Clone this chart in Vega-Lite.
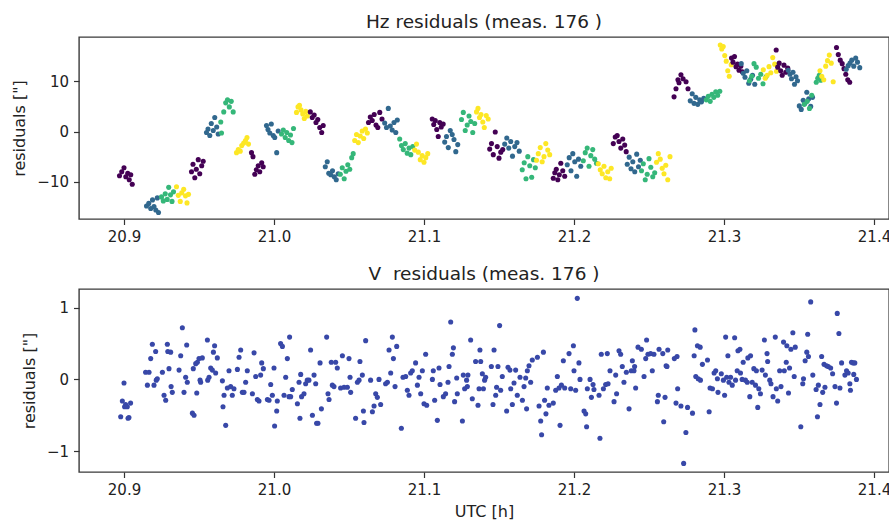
{
"$schema": "https://vega.github.io/schema/vega-lite/v6.json",
"padding": {"left": 11, "top": 11, "right": 0, "bottom": 0},
"spacing": 17,
"config": {
 "font": "DejaVu Sans",
 "view": {"stroke": "#3a3a3a", "strokeWidth": 1.4},
 "axis": {"grid": false, "domain": false, "tickColor": "#333", "tickSize": 5.5, "tickWidth": 1.2, "labelFontSize": 15, "labelColor": "#222", "titleFontSize": 16, "titleFontWeight": "normal", "titleColor": "#222", "labelPadding": 5, "titlePadding": 9},
 "title": {"fontSize": 18.5, "fontWeight": "normal", "color": "#222", "offset": 6}
},
"datasets": {
"hz": [
{"t":20.8970,"r":-8.8,"s":"1"},{"t":20.8985,"r":-8.0,"s":"1"},{"t":20.9000,"r":-7.2,"s":"1"},{"t":20.9012,"r":-9.0,"s":"1"},{"t":20.9025,"r":-8.3,"s":"1"},{"t":20.9035,"r":-9.6,"s":"1"},{"t":20.9045,"r":-8.6,"s":"1"},{"t":20.9055,"r":-10.5,"s":"1"},
{"t":20.9150,"r":-14.8,"s":"2"},{"t":20.9165,"r":-14.3,"s":"2"},{"t":20.9178,"r":-15.3,"s":"2"},{"t":20.9190,"r":-13.6,"s":"2"},{"t":20.9200,"r":-14.9,"s":"2"},{"t":20.9212,"r":-15.6,"s":"2"},{"t":20.9222,"r":-13.2,"s":"2"},{"t":20.9230,"r":-16.1,"s":"2"},
{"t":20.9250,"r":-13.0,"s":"3"},{"t":20.9262,"r":-13.8,"s":"3"},{"t":20.9275,"r":-12.4,"s":"3"},{"t":20.9288,"r":-13.5,"s":"3"},{"t":20.9298,"r":-11.1,"s":"3"},{"t":20.9310,"r":-12.6,"s":"3"},{"t":20.9320,"r":-13.9,"s":"3"},{"t":20.9330,"r":-12.0,"s":"3"},
{"t":20.9350,"r":-11.0,"s":"4"},{"t":20.9362,"r":-12.7,"s":"4"},{"t":20.9375,"r":-13.9,"s":"4"},{"t":20.9385,"r":-12.2,"s":"4"},{"t":20.9398,"r":-11.5,"s":"4"},{"t":20.9410,"r":-12.8,"s":"4"},{"t":20.9420,"r":-14.2,"s":"4"},{"t":20.9430,"r":-12.5,"s":"4"},
{"t":20.9450,"r":-8.0,"s":"1"},{"t":20.9460,"r":-6.5,"s":"1"},{"t":20.9472,"r":-9.2,"s":"1"},{"t":20.9482,"r":-7.5,"s":"1"},{"t":20.9495,"r":-5.6,"s":"1"},{"t":20.9505,"r":-8.4,"s":"1"},{"t":20.9518,"r":-6.8,"s":"1"},{"t":20.9528,"r":-5.9,"s":"1"},
{"t":20.9550,"r":-0.2,"s":"2"},{"t":20.9560,"r":0.5,"s":"2"},{"t":20.9572,"r":-0.8,"s":"2"},{"t":20.9582,"r":1.6,"s":"2"},{"t":20.9595,"r":0.2,"s":"2"},{"t":20.9605,"r":2.8,"s":"2"},{"t":20.9618,"r":0.9,"s":"2"},{"t":20.9628,"r":-0.5,"s":"2"},
{"t":20.9645,"r":1.9,"s":"3"},{"t":20.9650,"r":-0.3,"s":"3"},{"t":20.9665,"r":3.9,"s":"3"},{"t":20.9678,"r":5.7,"s":"3"},{"t":20.9690,"r":6.3,"s":"3"},{"t":20.9702,"r":4.9,"s":"3"},{"t":20.9715,"r":6.0,"s":"3"},{"t":20.9728,"r":3.9,"s":"3"},
{"t":20.9750,"r":-4.2,"s":"4"},{"t":20.9762,"r":-3.6,"s":"4"},{"t":20.9775,"r":-3.9,"s":"4"},{"t":20.9785,"r":-2.8,"s":"4"},{"t":20.9798,"r":-2.3,"s":"4"},{"t":20.9810,"r":-1.8,"s":"4"},{"t":20.9820,"r":-1.2,"s":"4"},{"t":20.9830,"r":-2.5,"s":"4"},
{"t":20.9850,"r":-4.2,"s":"1"},{"t":20.9860,"r":-5.0,"s":"1"},{"t":20.9872,"r":-8.5,"s":"1"},{"t":20.9882,"r":-7.6,"s":"1"},{"t":20.9895,"r":-6.8,"s":"1"},{"t":20.9905,"r":-8.0,"s":"1"},{"t":20.9918,"r":-6.2,"s":"1"},{"t":20.9928,"r":-7.0,"s":"1"},
{"t":20.9950,"r":1.2,"s":"2"},{"t":20.9960,"r":0.4,"s":"2"},{"t":20.9972,"r":-0.3,"s":"2"},{"t":20.9982,"r":1.5,"s":"2"},{"t":20.9995,"r":-0.8,"s":"2"},{"t":21.0005,"r":-1.2,"s":"2"},{"t":21.0018,"r":-4.2,"s":"2"},{"t":21.0028,"r":0.1,"s":"2"},
{"t":21.0050,"r":-0.5,"s":"3"},{"t":21.0062,"r":0.3,"s":"3"},{"t":21.0075,"r":-1.2,"s":"3"},{"t":21.0085,"r":-0.2,"s":"3"},{"t":21.0098,"r":-1.8,"s":"3"},{"t":21.0110,"r":-0.7,"s":"3"},{"t":21.0120,"r":-2.2,"s":"3"},{"t":21.0130,"r":0.6,"s":"3"},
{"t":21.0150,"r":3.8,"s":"4"},{"t":21.0160,"r":4.9,"s":"4"},{"t":21.0170,"r":5.2,"s":"4"},{"t":21.0180,"r":4.3,"s":"4"},{"t":21.0192,"r":3.5,"s":"4"},{"t":21.0202,"r":2.6,"s":"4"},{"t":21.0212,"r":4.0,"s":"4"},{"t":21.0222,"r":3.1,"s":"4"},
{"t":21.0242,"r":3.9,"s":"1"},{"t":21.0255,"r":2.8,"s":"1"},{"t":21.0268,"r":3.3,"s":"1"},{"t":21.0280,"r":1.8,"s":"1"},{"t":21.0292,"r":2.4,"s":"1"},{"t":21.0305,"r":0.8,"s":"1"},{"t":21.0318,"r":-0.2,"s":"1"},{"t":21.0328,"r":1.2,"s":"1"},
{"t":21.0342,"r":-7.0,"s":"2"},{"t":21.0355,"r":-6.0,"s":"2"},{"t":21.0365,"r":-8.3,"s":"2"},{"t":21.0378,"r":-8.6,"s":"2"},{"t":21.0390,"r":-7.8,"s":"2"},{"t":21.0402,"r":-9.0,"s":"2"},{"t":21.0415,"r":-9.6,"s":"2"},{"t":21.0428,"r":-8.4,"s":"2"},
{"t":21.0442,"r":-8.5,"s":"3"},{"t":21.0455,"r":-7.2,"s":"3"},{"t":21.0468,"r":-9.4,"s":"3"},{"t":21.0480,"r":-7.9,"s":"3"},{"t":21.0492,"r":-6.6,"s":"3"},{"t":21.0505,"r":-7.5,"s":"3"},{"t":21.0518,"r":-5.2,"s":"3"},{"t":21.0528,"r":-4.4,"s":"3"},
{"t":21.0538,"r":-1.8,"s":"4"},{"t":21.0550,"r":-0.6,"s":"4"},{"t":21.0562,"r":-2.2,"s":"4"},{"t":21.0575,"r":-0.9,"s":"4"},{"t":21.0588,"r":0.1,"s":"4"},{"t":21.0598,"r":-1.4,"s":"4"},{"t":21.0610,"r":0.5,"s":"4"},{"t":21.0622,"r":-0.3,"s":"4"},
{"t":21.0630,"r":1.8,"s":"1"},{"t":21.0642,"r":2.9,"s":"1"},{"t":21.0655,"r":2.2,"s":"1"},{"t":21.0668,"r":3.4,"s":"1"},{"t":21.0680,"r":1.3,"s":"1"},{"t":21.0692,"r":0.8,"s":"1"},{"t":21.0705,"r":3.8,"s":"1"},{"t":21.0720,"r":2.5,"s":"1"},
{"t":21.0738,"r":1.7,"s":"2"},{"t":21.0750,"r":0.8,"s":"2"},{"t":21.0762,"r":4.6,"s":"2"},{"t":21.0775,"r":1.1,"s":"2"},{"t":21.0788,"r":0.3,"s":"2"},{"t":21.0800,"r":1.8,"s":"2"},{"t":21.0812,"r":-0.2,"s":"2"},{"t":21.0822,"r":2.3,"s":"2"},
{"t":21.0838,"r":-1.5,"s":"3"},{"t":21.0850,"r":-2.8,"s":"3"},{"t":21.0862,"r":-3.6,"s":"3"},{"t":21.0875,"r":-2.4,"s":"3"},{"t":21.0888,"r":-4.3,"s":"3"},{"t":21.0900,"r":-3.3,"s":"3"},{"t":21.0912,"r":-4.6,"s":"3"},{"t":21.0925,"r":-3.0,"s":"3"},
{"t":21.0938,"r":-3.7,"s":"4"},{"t":21.0950,"r":-2.5,"s":"4"},{"t":21.0962,"r":-4.1,"s":"4"},{"t":21.0975,"r":-5.6,"s":"4"},{"t":21.0988,"r":-4.8,"s":"4"},{"t":21.1000,"r":-6.1,"s":"4"},{"t":21.1012,"r":-5.2,"s":"4"},{"t":21.1025,"r":-4.4,"s":"4"},
{"t":21.1055,"r":2.5,"s":"1"},{"t":21.1065,"r":1.4,"s":"1"},{"t":21.1075,"r":2.2,"s":"1"},{"t":21.1085,"r":0.4,"s":"1"},{"t":21.1095,"r":-1.0,"s":"1"},{"t":21.1105,"r":1.8,"s":"1"},{"t":21.1115,"r":0.9,"s":"1"},{"t":21.1128,"r":1.5,"s":"1"},
{"t":21.1138,"r":-2.1,"s":"2"},{"t":21.1150,"r":-1.0,"s":"2"},{"t":21.1162,"r":-3.2,"s":"2"},{"t":21.1175,"r":0.2,"s":"2"},{"t":21.1188,"r":-0.6,"s":"2"},{"t":21.1200,"r":-1.6,"s":"2"},{"t":21.1212,"r":-4.0,"s":"2"},{"t":21.1225,"r":-2.6,"s":"2"},
{"t":21.1250,"r":2.4,"s":"3"},{"t":21.1262,"r":3.8,"s":"3"},{"t":21.1275,"r":0.2,"s":"3"},{"t":21.1288,"r":1.3,"s":"3"},{"t":21.1300,"r":3.1,"s":"3"},{"t":21.1312,"r":2.0,"s":"3"},{"t":21.1325,"r":-0.2,"s":"3"},{"t":21.1338,"r":1.6,"s":"3"},
{"t":21.1350,"r":3.9,"s":"4"},{"t":21.1360,"r":4.6,"s":"4"},{"t":21.1370,"r":2.8,"s":"4"},{"t":21.1380,"r":3.4,"s":"4"},{"t":21.1392,"r":1.9,"s":"4"},{"t":21.1402,"r":0.8,"s":"4"},{"t":21.1415,"r":3.2,"s":"4"},{"t":21.1428,"r":2.5,"s":"4"},
{"t":21.1438,"r":-3.5,"s":"1"},{"t":21.1450,"r":-2.4,"s":"1"},{"t":21.1462,"r":-4.6,"s":"1"},{"t":21.1475,"r":-0.1,"s":"1"},{"t":21.1488,"r":-3.0,"s":"1"},{"t":21.1500,"r":-5.3,"s":"1"},{"t":21.1512,"r":-4.1,"s":"1"},{"t":21.1525,"r":-3.6,"s":"1"},
{"t":21.1538,"r":-2.5,"s":"2"},{"t":21.1552,"r":-1.3,"s":"2"},{"t":21.1565,"r":-3.3,"s":"2"},{"t":21.1578,"r":-2.0,"s":"2"},{"t":21.1590,"r":-4.9,"s":"2"},{"t":21.1605,"r":-3.0,"s":"2"},{"t":21.1620,"r":-2.2,"s":"2"},{"t":21.1635,"r":-3.9,"s":"2"},
{"t":21.1655,"r":-7.6,"s":"3"},{"t":21.1668,"r":-6.2,"s":"3"},{"t":21.1680,"r":-9.4,"s":"3"},{"t":21.1692,"r":-5.0,"s":"3"},{"t":21.1705,"r":-6.8,"s":"3"},{"t":21.1718,"r":-9.1,"s":"3"},{"t":21.1730,"r":-5.6,"s":"3"},{"t":21.1742,"r":-7.2,"s":"3"},
{"t":21.1750,"r":-5.7,"s":"4"},{"t":21.1762,"r":-4.4,"s":"4"},{"t":21.1775,"r":-3.2,"s":"4"},{"t":21.1788,"r":-6.0,"s":"4"},{"t":21.1800,"r":-5.0,"s":"4"},{"t":21.1812,"r":-2.4,"s":"4"},{"t":21.1825,"r":-3.7,"s":"4"},{"t":21.1838,"r":-4.6,"s":"4"},
{"t":21.1862,"r":-9.3,"s":"1"},{"t":21.1872,"r":-8.2,"s":"1"},{"t":21.1882,"r":-7.5,"s":"1"},{"t":21.1892,"r":-9.6,"s":"1"},{"t":21.1902,"r":-8.6,"s":"1"},{"t":21.1912,"r":-6.3,"s":"1"},{"t":21.1925,"r":-7.8,"s":"1"},{"t":21.1938,"r":-8.9,"s":"1"},
{"t":21.1955,"r":-6.6,"s":"2"},{"t":21.1968,"r":-5.2,"s":"2"},{"t":21.1980,"r":-7.8,"s":"2"},{"t":21.1992,"r":-4.4,"s":"2"},{"t":21.2005,"r":-6.0,"s":"2"},{"t":21.2018,"r":-8.9,"s":"2"},{"t":21.2030,"r":-5.5,"s":"2"},{"t":21.2045,"r":-6.9,"s":"2"},
{"t":21.2062,"r":-5.8,"s":"3"},{"t":21.2075,"r":-4.2,"s":"3"},{"t":21.2088,"r":-3.3,"s":"3"},{"t":21.2100,"r":-6.9,"s":"3"},{"t":21.2112,"r":-4.8,"s":"3"},{"t":21.2125,"r":-3.6,"s":"3"},{"t":21.2138,"r":-5.5,"s":"3"},{"t":21.2150,"r":-6.3,"s":"3"},
{"t":21.2162,"r":-6.4,"s":"4"},{"t":21.2175,"r":-7.6,"s":"4"},{"t":21.2188,"r":-8.4,"s":"4"},{"t":21.2200,"r":-6.9,"s":"4"},{"t":21.2212,"r":-9.2,"s":"4"},{"t":21.2225,"r":-8.0,"s":"4"},{"t":21.2238,"r":-9.4,"s":"4"},{"t":21.2248,"r":-7.3,"s":"4"},
{"t":21.2262,"r":-2.4,"s":"1"},{"t":21.2275,"r":-1.1,"s":"1"},{"t":21.2288,"r":-0.8,"s":"1"},{"t":21.2300,"r":-2.0,"s":"1"},{"t":21.2312,"r":-3.3,"s":"1"},{"t":21.2325,"r":-1.5,"s":"1"},{"t":21.2338,"r":-2.7,"s":"1"},{"t":21.2348,"r":-4.0,"s":"1"},
{"t":21.2355,"r":-6.5,"s":"2"},{"t":21.2368,"r":-5.1,"s":"2"},{"t":21.2380,"r":-7.4,"s":"2"},{"t":21.2392,"r":-6.0,"s":"2"},{"t":21.2405,"r":-8.0,"s":"2"},{"t":21.2418,"r":-4.5,"s":"2"},{"t":21.2430,"r":-7.0,"s":"2"},{"t":21.2442,"r":-5.7,"s":"2"},
{"t":21.2450,"r":-7.8,"s":"3"},{"t":21.2462,"r":-6.4,"s":"3"},{"t":21.2475,"r":-9.6,"s":"3"},{"t":21.2488,"r":-8.5,"s":"3"},{"t":21.2500,"r":-5.4,"s":"3"},{"t":21.2512,"r":-7.1,"s":"3"},{"t":21.2525,"r":-9.0,"s":"3"},{"t":21.2538,"r":-8.2,"s":"3"},
{"t":21.2550,"r":-6.1,"s":"4"},{"t":21.2562,"r":-4.4,"s":"4"},{"t":21.2575,"r":-5.5,"s":"4"},{"t":21.2588,"r":-7.3,"s":"4"},{"t":21.2600,"r":-8.4,"s":"4"},{"t":21.2612,"r":-6.7,"s":"4"},{"t":21.2625,"r":-9.6,"s":"4"},{"t":21.2640,"r":-5.0,"s":"4"},
{"t":21.2667,"r":6.9,"s":"1"},{"t":21.2680,"r":8.5,"s":"1"},{"t":21.2693,"r":10.3,"s":"1"},{"t":21.2700,"r":9.7,"s":"1"},{"t":21.2713,"r":11.3,"s":"1"},{"t":21.2727,"r":10.5,"s":"1"},{"t":21.2747,"r":9.9,"s":"1"},{"t":21.2760,"r":8.5,"s":"1"},
{"t":21.2775,"r":6.1,"s":"2"},{"t":21.2788,"r":7.5,"s":"2"},{"t":21.2800,"r":5.6,"s":"2"},{"t":21.2812,"r":6.8,"s":"2"},{"t":21.2825,"r":5.4,"s":"2"},{"t":21.2838,"r":6.3,"s":"2"},{"t":21.2850,"r":5.9,"s":"2"},{"t":21.2865,"r":6.6,"s":"2"},
{"t":21.2882,"r":6.3,"s":"3"},{"t":21.2895,"r":7.0,"s":"3"},{"t":21.2908,"r":6.0,"s":"3"},{"t":21.2920,"r":7.4,"s":"3"},{"t":21.2932,"r":6.8,"s":"3"},{"t":21.2945,"r":7.9,"s":"3"},{"t":21.2958,"r":7.2,"s":"3"},{"t":21.2972,"r":8.0,"s":"3"},
{"t":21.2975,"r":17.2,"s":"4"},{"t":21.2985,"r":16.4,"s":"4"},{"t":21.2995,"r":16.9,"s":"4"},{"t":21.3005,"r":15.1,"s":"4"},{"t":21.3015,"r":14.0,"s":"4"},{"t":21.3025,"r":12.1,"s":"4"},{"t":21.3035,"r":11.0,"s":"4"},{"t":21.3048,"r":13.3,"s":"4"},
{"t":21.3050,"r":14.6,"s":"1"},{"t":21.3060,"r":13.8,"s":"1"},{"t":21.3070,"r":14.9,"s":"1"},{"t":21.3080,"r":12.9,"s":"1"},{"t":21.3090,"r":13.4,"s":"1"},{"t":21.3100,"r":12.2,"s":"1"},{"t":21.3112,"r":13.0,"s":"1"},{"t":21.3122,"r":11.9,"s":"1"},
{"t":21.3115,"r":13.5,"s":"2"},{"t":21.3128,"r":11.6,"s":"2"},{"t":21.3140,"r":10.8,"s":"2"},{"t":21.3152,"r":12.1,"s":"2"},{"t":21.3165,"r":9.6,"s":"2"},{"t":21.3178,"r":10.4,"s":"2"},{"t":21.3190,"r":11.2,"s":"2"},{"t":21.3205,"r":9.4,"s":"2"},
{"t":21.3170,"r":10.1,"s":"3"},{"t":21.3185,"r":11.0,"s":"3"},{"t":21.3200,"r":13.5,"s":"3"},{"t":21.3215,"r":12.8,"s":"3"},{"t":21.3230,"r":10.6,"s":"3"},{"t":21.3245,"r":11.4,"s":"3"},{"t":21.3260,"r":9.5,"s":"3"},{"t":21.3280,"r":10.9,"s":"3"},
{"t":21.3262,"r":12.3,"s":"4"},{"t":21.3275,"r":10.6,"s":"4"},{"t":21.3288,"r":11.2,"s":"4"},{"t":21.3300,"r":12.9,"s":"4"},{"t":21.3312,"r":11.7,"s":"4"},{"t":21.3325,"r":14.7,"s":"4"},{"t":21.3338,"r":13.4,"s":"4"},{"t":21.3350,"r":12.0,"s":"4"},
{"t":21.3348,"r":16.2,"s":"1"},{"t":21.3358,"r":12.8,"s":"1"},{"t":21.3368,"r":13.6,"s":"1"},{"t":21.3378,"r":12.1,"s":"1"},{"t":21.3388,"r":11.2,"s":"1"},{"t":21.3400,"r":13.2,"s":"1"},{"t":21.3412,"r":11.8,"s":"1"},{"t":21.3425,"r":12.6,"s":"1"},
{"t":21.3428,"r":12.2,"s":"2"},{"t":21.3440,"r":11.4,"s":"2"},{"t":21.3450,"r":10.5,"s":"2"},{"t":21.3460,"r":11.8,"s":"2"},{"t":21.3470,"r":9.4,"s":"2"},{"t":21.3480,"r":10.9,"s":"2"},{"t":21.3490,"r":10.1,"s":"2"},
{"t":21.3502,"r":5.1,"s":"2"},{"t":21.3515,"r":4.4,"s":"2"},{"t":21.3528,"r":6.2,"s":"2"},{"t":21.3540,"r":5.6,"s":"2"},{"t":21.3552,"r":7.8,"s":"2"},{"t":21.3565,"r":6.5,"s":"2"},{"t":21.3578,"r":5.0,"s":"2"},{"t":21.3590,"r":6.8,"s":"2"},
{"t":21.3535,"r":5.4,"s":"3"},{"t":21.3555,"r":6.0,"s":"3"},{"t":21.3570,"r":4.6,"s":"3"},{"t":21.3585,"r":7.2,"s":"3"},{"t":21.3615,"r":9.8,"s":"3"},{"t":21.3625,"r":10.6,"s":"3"},{"t":21.3635,"r":11.2,"s":"3"},{"t":21.3645,"r":10.2,"s":"3"},
{"t":21.3640,"r":12.1,"s":"4"},{"t":21.3652,"r":11.0,"s":"4"},{"t":21.3665,"r":10.3,"s":"4"},{"t":21.3678,"r":13.0,"s":"4"},{"t":21.3690,"r":14.1,"s":"4"},{"t":21.3702,"r":15.2,"s":"4"},{"t":21.3715,"r":13.6,"s":"4"},{"t":21.3728,"r":9.9,"s":"4"},
{"t":21.3750,"r":16.7,"s":"1"},{"t":21.3762,"r":15.3,"s":"1"},{"t":21.3775,"r":14.2,"s":"1"},{"t":21.3788,"r":13.5,"s":"1"},{"t":21.3800,"r":12.5,"s":"1"},{"t":21.3812,"r":11.4,"s":"1"},{"t":21.3825,"r":10.3,"s":"1"},{"t":21.3838,"r":9.8,"s":"1"},
{"t":21.3815,"r":12.4,"s":"2"},{"t":21.3828,"r":13.1,"s":"2"},{"t":21.3840,"r":13.6,"s":"2"},{"t":21.3852,"r":14.2,"s":"2"},{"t":21.3865,"r":13.0,"s":"2"},{"t":21.3878,"r":14.6,"s":"2"},{"t":21.3890,"r":13.8,"s":"2"},{"t":21.3905,"r":12.7,"s":"2"}
],
"v": [
{"t":20.8978,"r":-0.52},{"t":20.8989,"r":-0.30},{"t":20.9000,"r":-0.05},{"t":20.9011,"r":-0.35},{"t":20.9004,"r":-0.38},{"t":20.9022,"r":-0.38},{"t":20.9044,"r":-0.33},{"t":20.9033,"r":-0.53},{"t":20.9027,"r":-0.54},
{"t":20.9144,"r":0.10},{"t":20.9167,"r":0.10},{"t":20.9156,"r":-0.08},{"t":20.9178,"r":0.29},{"t":20.9189,"r":0.49},{"t":20.9211,"r":0.39},{"t":20.9200,"r":-0.08},{"t":20.9215,"r":-0.01},{"t":20.9222,"r":0.01},
{"t":20.9256,"r":0.10},{"t":20.9267,"r":-0.22},{"t":20.9278,"r":-0.29},{"t":20.9289,"r":0.49},{"t":20.9292,"r":0.39},{"t":20.9300,"r":0.15},{"t":20.9311,"r":0.38},{"t":20.9314,"r":-0.10},{"t":20.9322,"r":-0.18},
{"t":20.9367,"r":0.13},{"t":20.9378,"r":0.33},{"t":20.9389,"r":0.72},{"t":20.9400,"r":-0.18},{"t":20.9411,"r":0.03},{"t":20.9418,"r":0.48},{"t":20.9422,"r":-0.04},{"t":20.9456,"r":-0.47},{"t":20.9467,"r":-0.50},{"t":20.9462,"r":0.15},
{"t":20.9478,"r":0.22},{"t":20.9489,"r":0.24},{"t":20.9500,"r":0.29},{"t":20.9511,"r":-0.04},{"t":20.9522,"r":0.30},{"t":20.9485,"r":-0.19},{"t":20.9507,"r":-0.01},
{"t":20.9556,"r":0.55},{"t":20.9558,"r":-0.01},{"t":20.9567,"r":0.03},{"t":20.9578,"r":0.16},{"t":20.9589,"r":0.13},{"t":20.9596,"r":0.38},{"t":20.9604,"r":0.47},{"t":20.9611,"r":0.09},{"t":20.9622,"r":0.30},
{"t":20.9656,"r":-0.02},{"t":20.9660,"r":-0.38},{"t":20.9667,"r":-0.22},{"t":20.9678,"r":-0.64},{"t":20.9689,"r":-0.12},{"t":20.9700,"r":0.12},{"t":20.9711,"r":-0.10},{"t":20.9722,"r":-0.22},{"t":20.9733,"r":-0.13},
{"t":20.9756,"r":0.14},{"t":20.9767,"r":0.31},{"t":20.9778,"r":0.41},{"t":20.9789,"r":-0.18},{"t":20.9800,"r":-0.18},{"t":20.9811,"r":-0.04},{"t":20.9822,"r":0.12},
{"t":20.9856,"r":-0.20},{"t":20.9867,"r":0.37},{"t":20.9878,"r":0.04},{"t":20.9889,"r":-0.28},{"t":20.9900,"r":-0.30},{"t":20.9911,"r":0.06},{"t":20.9918,"r":0.23},{"t":20.9929,"r":0.15},
{"t":20.9956,"r":-0.28},{"t":20.9967,"r":-0.29},{"t":20.9978,"r":-0.07},{"t":20.9989,"r":-0.22},{"t":21.0000,"r":0.16},{"t":21.0004,"r":-0.65},{"t":21.0018,"r":-0.44},{"t":21.0022,"r":-0.30},
{"t":21.0044,"r":0.50},{"t":21.0056,"r":0.46},{"t":21.0067,"r":-0.22},{"t":21.0078,"r":0.03},{"t":21.0089,"r":0.29},{"t":21.0100,"r":-0.24},{"t":21.0104,"r":0.59},{"t":21.0111,"r":-0.24},{"t":21.0122,"r":-0.14},
{"t":21.0156,"r":-0.34},{"t":21.0167,"r":-0.04},{"t":21.0173,"r":-0.54},{"t":21.0178,"r":0.07},{"t":21.0184,"r":-0.24},{"t":21.0200,"r":-0.20},{"t":21.0211,"r":-0.06},{"t":21.0222,"r":-0.01},{"t":21.0233,"r":-0.01},{"t":21.0244,"r":0.41},
{"t":21.0256,"r":-0.50},{"t":21.0267,"r":0.06},{"t":21.0278,"r":-0.06},{"t":21.0284,"r":-0.61},{"t":21.0293,"r":-0.61},{"t":21.0307,"r":0.23},{"t":21.0316,"r":-0.41},
{"t":21.0351,"r":0.59},{"t":21.0360,"r":-0.20},{"t":21.0367,"r":-0.28},{"t":21.0382,"r":0.24},{"t":21.0389,"r":-0.08},{"t":21.0400,"r":-0.10},{"t":21.0411,"r":0.24},{"t":21.0422,"r":0.16},
{"t":21.0444,"r":-0.12},{"t":21.0456,"r":0.33},{"t":21.0467,"r":-0.11},{"t":21.0489,"r":-0.11},{"t":21.0500,"r":0.29},{"t":21.0507,"r":0.03},{"t":21.0511,"r":-0.18},
{"t":21.0544,"r":-0.54},{"t":21.0556,"r":-0.04},{"t":21.0567,"r":-0.01},{"t":21.0573,"r":0.25},{"t":21.0589,"r":0.06},{"t":21.0596,"r":-0.44},{"t":21.0600,"r":-0.60},{"t":21.0611,"r":0.54},
{"t":21.0644,"r":-0.01},{"t":21.0656,"r":-0.45},{"t":21.0678,"r":-0.20},{"t":21.0689,"r":-0.25},{"t":21.0700,"r":0.00},{"t":21.0667,"r":-0.37},{"t":21.0711,"r":-0.35},
{"t":21.0744,"r":-0.06},{"t":21.0756,"r":-0.04},{"t":21.0767,"r":0.41},{"t":21.0778,"r":0.09},{"t":21.0789,"r":0.59},{"t":21.0796,"r":0.29},{"t":21.0807,"r":-0.10},{"t":21.0818,"r":0.46},
{"t":21.0849,"r":-0.68},{"t":21.0860,"r":0.03},{"t":21.0878,"r":0.04},{"t":21.0889,"r":-0.15},{"t":21.0900,"r":-0.22},{"t":21.0911,"r":0.09},{"t":21.0922,"r":0.12},{"t":21.0944,"r":0.23},{"t":21.0956,"r":-0.08},{"t":21.0967,"r":0.03},{"t":21.0978,"r":-0.20},{"t":21.0989,"r":0.12},
{"t":21.1000,"r":-0.34},{"t":21.1011,"r":0.35},{"t":21.1018,"r":-0.36},{"t":21.1056,"r":0.00},{"t":21.1062,"r":0.12},{"t":21.1071,"r":-0.29},{"t":21.1089,"r":-0.57},{"t":21.1100,"r":0.16},{"t":21.1107,"r":-0.07},
{"t":21.1129,"r":-0.24},{"t":21.1144,"r":-0.20},{"t":21.1160,"r":-0.04},{"t":21.1167,"r":0.18},{"t":21.1178,"r":0.80},{"t":21.1189,"r":0.35},{"t":21.1196,"r":0.44},{"t":21.1204,"r":-0.31},{"t":21.1218,"r":0.02},{"t":21.1222,"r":-0.20},
{"t":21.1256,"r":-0.58},{"t":21.1262,"r":0.06},{"t":21.1271,"r":-0.13},{"t":21.1284,"r":-0.01},{"t":21.1289,"r":-0.10},{"t":21.1293,"r":0.06},{"t":21.1311,"r":0.55},{"t":21.1322,"r":-0.27},
{"t":21.1344,"r":0.25},{"t":21.1360,"r":-0.36},{"t":21.1367,"r":-0.13},{"t":21.1373,"r":0.41},{"t":21.1378,"r":0.25},{"t":21.1389,"r":0.08},{"t":21.1396,"r":-0.13},{"t":21.1404,"r":-0.01},{"t":21.1411,"r":0.03},
{"t":21.1449,"r":0.18},{"t":21.1460,"r":-0.35},{"t":21.1467,"r":0.41},{"t":21.1478,"r":-0.22},{"t":21.1484,"r":-0.11},{"t":21.1493,"r":0.18},{"t":21.1504,"r":0.75},{"t":21.1511,"r":-0.15},{"t":21.1522,"r":0.04},
{"t":21.1551,"r":-0.44},{"t":21.1560,"r":0.17},{"t":21.1573,"r":0.13},{"t":21.1578,"r":-0.13},{"t":21.1589,"r":-0.35},{"t":21.1600,"r":-0.05},{"t":21.1611,"r":0.13},{"t":21.1622,"r":-0.22},{"t":21.1640,"r":0.03},
{"t":21.1656,"r":-0.29},{"t":21.1667,"r":-0.10},{"t":21.1678,"r":0.02},{"t":21.1684,"r":-0.41},{"t":21.1689,"r":0.12},{"t":21.1700,"r":0.19},{"t":21.1711,"r":-0.04},{"t":21.1722,"r":0.27},
{"t":21.1756,"r":0.31},{"t":21.1767,"r":-0.37},{"t":21.1778,"r":-0.58},{"t":21.1784,"r":-0.77},{"t":21.1796,"r":0.38},{"t":21.1804,"r":-0.29},{"t":21.1813,"r":-0.48},{"t":21.1822,"r":-0.12},{"t":21.1833,"r":-0.36},
{"t":21.1862,"r":-0.33},{"t":21.1878,"r":-0.15},{"t":21.1889,"r":0.04},{"t":21.1900,"r":-0.12},{"t":21.1907,"r":-0.64},{"t":21.1916,"r":-0.08},{"t":21.1929,"r":0.26},{"t":21.1938,"r":-0.12},
{"t":21.1967,"r":0.36},{"t":21.1978,"r":-0.13},{"t":21.1996,"r":0.47},{"t":21.2000,"r":0.12},{"t":21.2011,"r":-0.15},{"t":21.2022,"r":1.13},{"t":21.2033,"r":0.23},{"t":21.2040,"r":0.00},
{"t":21.2067,"r":-0.44},{"t":21.2078,"r":-0.48},{"t":21.2084,"r":-0.66},{"t":21.2089,"r":-0.13},{"t":21.2107,"r":0.00},{"t":21.2116,"r":-0.25},{"t":21.2127,"r":-0.07},{"t":21.2133,"r":-0.14},
{"t":21.2167,"r":-0.22},{"t":21.2173,"r":-0.82},{"t":21.2182,"r":0.35},{"t":21.2196,"r":-0.13},{"t":21.2211,"r":-0.07},{"t":21.2222,"r":0.36},{"t":21.2227,"r":-0.06},{"t":21.2240,"r":0.12},
{"t":21.2267,"r":-0.31},{"t":21.2278,"r":0.06},{"t":21.2284,"r":-0.20},{"t":21.2300,"r":0.40},{"t":21.2311,"r":0.35},{"t":21.2322,"r":0.18},{"t":21.2333,"r":-0.04},{"t":21.2349,"r":0.10},
{"t":21.2367,"r":-0.41},{"t":21.2382,"r":0.12},{"t":21.2389,"r":0.26},{"t":21.2400,"r":0.12},{"t":21.2404,"r":0.18},{"t":21.2411,"r":-0.12},{"t":21.2427,"r":0.45},{"t":21.2449,"r":0.42},
{"t":21.2467,"r":0.04},{"t":21.2478,"r":0.29},{"t":21.2484,"r":0.55},{"t":21.2493,"r":0.35},{"t":21.2511,"r":0.36},{"t":21.2522,"r":0.12},{"t":21.2533,"r":0.35},{"t":21.2556,"r":-0.31},{"t":21.2562,"r":-0.22},{"t":21.2567,"r":0.42},
{"t":21.2592,"r":0.36},{"t":21.2598,"r":-0.59},{"t":21.2607,"r":-0.25},{"t":21.2614,"r":0.19},{"t":21.2620,"r":0.18},{"t":21.2625,"r":0.41},
{"t":21.2669,"r":0.29},{"t":21.2680,"r":-0.33},{"t":21.2687,"r":0.32},{"t":21.2691,"r":-0.13},{"t":21.2713,"r":-0.37},{"t":21.2731,"r":-1.17},{"t":21.2746,"r":-0.74},{"t":21.2757,"r":-0.39},
{"t":21.2790,"r":-0.47},{"t":21.2801,"r":0.33},{"t":21.2806,"r":0.69},{"t":21.2812,"r":0.04},{"t":21.2823,"r":0.47},{"t":21.2828,"r":0.01},{"t":21.2841,"r":0.45},{"t":21.2843,"r":-0.01},{"t":21.2856,"r":0.21},
{"t":21.2890,"r":0.27},{"t":21.2901,"r":-0.45},{"t":21.2907,"r":-0.12},{"t":21.2923,"r":-0.13},{"t":21.2934,"r":0.09},{"t":21.2945,"r":0.12},{"t":21.2956,"r":0.01},{"t":21.2960,"r":-0.18},
{"t":21.2982,"r":0.08},{"t":21.2996,"r":-0.01},{"t":21.3004,"r":-0.22},{"t":21.3011,"r":0.59},{"t":21.3018,"r":0.03},{"t":21.3026,"r":0.33},{"t":21.3033,"r":-0.04},{"t":21.3044,"r":0.03},{"t":21.3055,"r":-0.08},
{"t":21.3071,"r":0.58},{"t":21.3077,"r":-0.01},{"t":21.3088,"r":0.12},{"t":21.3093,"r":0.40},{"t":21.3106,"r":0.42},{"t":21.3110,"r":0.09},{"t":21.3121,"r":0.00},{"t":21.3128,"r":0.24},
{"t":21.3143,"r":-0.01},{"t":21.3155,"r":-0.04},{"t":21.3159,"r":0.30},{"t":21.3172,"r":-0.24},{"t":21.3177,"r":0.33},{"t":21.3188,"r":-0.04},{"t":21.3199,"r":0.15},{"t":21.3210,"r":-0.08},{"t":21.3216,"r":0.12},
{"t":21.3225,"r":-0.39},{"t":21.3232,"r":-0.13},{"t":21.3243,"r":-0.20},{"t":21.3254,"r":0.13},{"t":21.3269,"r":0.55},{"t":21.3276,"r":0.06},{"t":21.3287,"r":0.36},{"t":21.3291,"r":0.25},
{"t":21.3305,"r":-0.01},{"t":21.3313,"r":-0.06},{"t":21.3327,"r":-0.24},{"t":21.3342,"r":0.59},{"t":21.3349,"r":-0.13},{"t":21.3358,"r":-0.30},{"t":21.3371,"r":0.12},{"t":21.3380,"r":-0.10},
{"t":21.3397,"r":0.52},{"t":21.3402,"r":0.12},{"t":21.3415,"r":0.24},{"t":21.3419,"r":0.47},{"t":21.3430,"r":-0.19},{"t":21.3437,"r":0.16},{"t":21.3446,"r":0.42},{"t":21.3459,"r":0.65},{"t":21.3468,"r":0.04},{"t":21.3475,"r":0.45},
{"t":21.3512,"r":-0.66},{"t":21.3525,"r":-0.06},{"t":21.3530,"r":0.01},{"t":21.3541,"r":0.26},{"t":21.3552,"r":0.38},{"t":21.3558,"r":0.63},{"t":21.3563,"r":0.32},{"t":21.3578,"r":1.08},{"t":21.3592,"r":0.06},
{"t":21.3614,"r":-0.14},{"t":21.3623,"r":-0.52},{"t":21.3629,"r":-0.08},{"t":21.3640,"r":-0.35},{"t":21.3651,"r":0.32},{"t":21.3658,"r":-0.18},{"t":21.3667,"r":0.21},{"t":21.3673,"r":-0.11},{"t":21.3684,"r":0.19},{"t":21.3695,"r":0.18},
{"t":21.3711,"r":0.16},{"t":21.3724,"r":0.08},{"t":21.3740,"r":-0.10},{"t":21.3750,"r":-0.33},{"t":21.3755,"r":0.92},{"t":21.3766,"r":0.64},{"t":21.3773,"r":-0.12},{"t":21.3784,"r":0.23},
{"t":21.3806,"r":0.06},{"t":21.3817,"r":0.12},{"t":21.3828,"r":0.09},{"t":21.3839,"r":-0.06},{"t":21.3843,"r":-0.15},{"t":21.3850,"r":0.24},{"t":21.3861,"r":0.23},{"t":21.3865,"r":0.07},{"t":21.3872,"r":0.23},{"t":21.3883,"r":0.00}
]
},
"vconcat": [
 {
  "width": 810, "height": 182,
  "title": "Hz residuals (meas. 176 )",
  "data": {"name": "hz"},
  "mark": {"type": "circle", "size": 26, "opacity": 1},
  "encoding": {
   "x": {"field": "t", "type": "quantitative", "scale": {"domain": [20.87, 21.41], "nice": false, "zero": false}, "axis": {"title": null, "values": [20.9, 21.0, 21.1, 21.2, 21.3, 21.4], "format": ".1f"}},
   "y": {"field": "r", "type": "quantitative", "scale": {"domain": [-17.4, 18.8], "nice": false, "zero": false}, "axis": {"title": "residuals [\"]", "values": [-10, 0, 10]}},
   "color": {"field": "s", "type": "nominal", "scale": {"domain": ["1", "2", "3", "4"], "range": ["#440154", "#31688e", "#35b779", "#fde725"]}, "legend": null}
  }
 },
 {
  "width": 810, "height": 183,
  "title": "V\u00a0 residuals (meas. 176 )",
  "data": {"name": "v"},
  "mark": {"type": "circle", "size": 26, "opacity": 1, "color": "#3848a8"},
  "encoding": {
   "x": {"field": "t", "type": "quantitative", "scale": {"domain": [20.87, 21.41], "nice": false, "zero": false}, "axis": {"title": "UTC [h]", "values": [20.9, 21.0, 21.1, 21.2, 21.3, 21.4], "format": ".1f", "titlePadding": 6}},
   "y": {"field": "r", "type": "quantitative", "scale": {"domain": [-1.29, 1.26], "nice": false, "zero": false}, "axis": {"title": "residuals [\"]", "values": [-1, 0, 1]}}
  }
 }
]
}
